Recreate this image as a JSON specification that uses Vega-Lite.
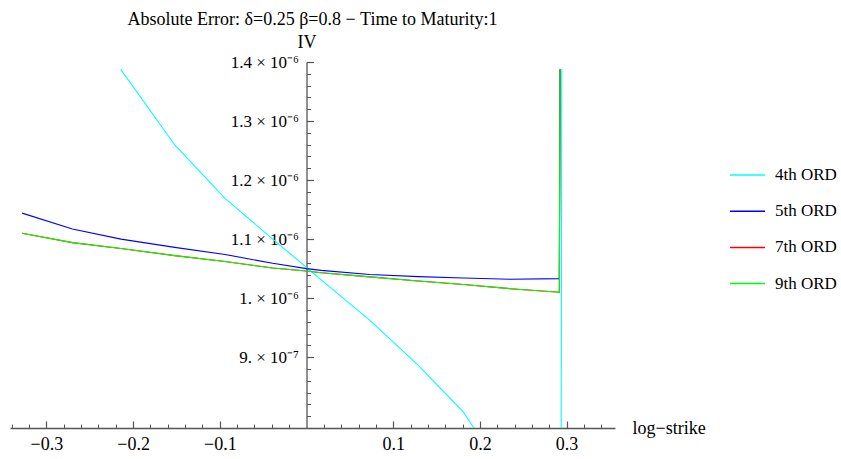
{
  "$schema": "https://vega.github.io/schema/vega-lite/v6.json",
  "autosize": {"type": "none"},
  "width": 605,
  "height": 366,
  "padding": {"left": 10, "top": 62, "right": 226, "bottom": 31},
  "background": "white",
  "config": {
    "font": "Liberation Serif",
    "view": {"stroke": null},
    "axis": {"grid": false}
  },
  "title": {
    "text": "Absolute Error: δ=0.25 β=0.8 − Time to Maturity:1",
    "font": "Liberation Serif",
    "fontSize": 18,
    "fontWeight": "normal",
    "color": "black",
    "anchor": "middle",
    "frame": "group",
    "offset": 4
  },
  "datasets": {
    "err": [
      {"k": -0.2143, "iv": 1.3876e-6, "s": "4th ORD"},
      {"k": -0.1517, "iv": 1.259e-6, "s": "4th ORD"},
      {"k": -0.094, "iv": 1.169e-6, "s": "4th ORD"},
      {"k": -0.039, "iv": 1.100e-6, "s": "4th ORD"},
      {"k": 0.017, "iv": 1.031e-6, "s": "4th ORD"},
      {"k": 0.0734, "iv": 0.962e-6, "s": "4th ORD"},
      {"k": 0.129, "iv": 0.886e-6, "s": "4th ORD"},
      {"k": 0.181, "iv": 0.807e-6, "s": "4th ORD"},
      {"k": 0.235, "iv": 0.685e-6, "s": "4th ORD"},
      {"k": 0.2935, "iv": 0.55e-6, "s": "4th ORD"},
      {"k": 0.2944, "iv": 1.3876e-6, "s": "4th ORD"},

      {"k": -0.328, "iv": 1.144e-6, "s": "5th ORD"},
      {"k": -0.27, "iv": 1.117e-6, "s": "5th ORD"},
      {"k": -0.214, "iv": 1.100e-6, "s": "5th ORD"},
      {"k": -0.152, "iv": 1.086e-6, "s": "5th ORD"},
      {"k": -0.094, "iv": 1.074e-6, "s": "5th ORD"},
      {"k": -0.039, "iv": 1.059e-6, "s": "5th ORD"},
      {"k": 0.0, "iv": 1.050e-6, "s": "5th ORD"},
      {"k": 0.017, "iv": 1.047e-6, "s": "5th ORD"},
      {"k": 0.073, "iv": 1.040e-6, "s": "5th ORD"},
      {"k": 0.129, "iv": 1.0365e-6, "s": "5th ORD"},
      {"k": 0.181, "iv": 1.034e-6, "s": "5th ORD"},
      {"k": 0.235, "iv": 1.032e-6, "s": "5th ORD"},
      {"k": 0.2916, "iv": 1.033e-6, "s": "5th ORD"},
      {"k": 0.2924, "iv": 1.3876e-6, "s": "5th ORD"},

      {"k": -0.328, "iv": 1.110e-6, "s": "7th ORD"},
      {"k": -0.27, "iv": 1.094e-6, "s": "7th ORD"},
      {"k": -0.214, "iv": 1.084e-6, "s": "7th ORD"},
      {"k": -0.152, "iv": 1.072e-6, "s": "7th ORD"},
      {"k": -0.094, "iv": 1.062e-6, "s": "7th ORD"},
      {"k": -0.039, "iv": 1.051e-6, "s": "7th ORD"},
      {"k": 0.0, "iv": 1.046e-6, "s": "7th ORD"},
      {"k": 0.017, "iv": 1.043e-6, "s": "7th ORD"},
      {"k": 0.073, "iv": 1.036e-6, "s": "7th ORD"},
      {"k": 0.129, "iv": 1.029e-6, "s": "7th ORD"},
      {"k": 0.181, "iv": 1.023e-6, "s": "7th ORD"},
      {"k": 0.235, "iv": 1.016e-6, "s": "7th ORD"},
      {"k": 0.2916, "iv": 1.010e-6, "s": "7th ORD"},
      {"k": 0.2924, "iv": 1.3876e-6, "s": "7th ORD"},

      {"k": -0.328, "iv": 1.110e-6, "s": "9th ORD"},
      {"k": -0.27, "iv": 1.094e-6, "s": "9th ORD"},
      {"k": -0.214, "iv": 1.084e-6, "s": "9th ORD"},
      {"k": -0.152, "iv": 1.072e-6, "s": "9th ORD"},
      {"k": -0.094, "iv": 1.062e-6, "s": "9th ORD"},
      {"k": -0.039, "iv": 1.051e-6, "s": "9th ORD"},
      {"k": 0.0, "iv": 1.046e-6, "s": "9th ORD"},
      {"k": 0.017, "iv": 1.043e-6, "s": "9th ORD"},
      {"k": 0.073, "iv": 1.036e-6, "s": "9th ORD"},
      {"k": 0.129, "iv": 1.029e-6, "s": "9th ORD"},
      {"k": 0.181, "iv": 1.023e-6, "s": "9th ORD"},
      {"k": 0.235, "iv": 1.016e-6, "s": "9th ORD"},
      {"k": 0.2916, "iv": 1.010e-6, "s": "9th ORD"},
      {"k": 0.2924, "iv": 1.3876e-6, "s": "9th ORD"}
    ]
  },
  "data": {"name": "err"},
  "resolve": {"axis": {"x": "independent", "y": "independent"}},
  "layer": [
    {
      "mark": {"type": "line", "clip": true, "strokeWidth": 1.1},
      "encoding": {
        "x": {
          "field": "k", "type": "quantitative",
          "scale": {"domain": [-0.342, 0.3558], "nice": false, "zero": false},
          "axis": {
            "orient": "bottom",
            "values": [-0.3, -0.2, -0.1, 0.1, 0.2, 0.3],
            "format": ".1f",
            "tickSize": -7,
            "tickColor": "#555",
            "tickWidth": 1.2,
            "domainColor": "#555",
            "domainWidth": 1.3,
            "labelPadding": 14,
            "labelFontSize": 18,
            "labelColor": "black",
            "labelFlush": false,
            "labelOverlap": false,
            "title": "log−strike",
            "titleFontSize": 18,
            "titleFontWeight": "normal",
            "titleColor": "black",
            "titleAngle": 0,
            "titleAlign": "left",
            "titleBaseline": "middle",
            "titleX": 622,
            "titleY": 0
          }
        },
        "y": {
          "field": "iv", "type": "quantitative",
          "scale": {"domain": [7.8e-7, 1.4e-6], "nice": false, "zero": false},
          "axis": {
            "orient": "left",
            "offset": -296.5,
            "values": [9e-7, 1e-6, 1.1e-6, 1.2e-6, 1.3e-6, 1.4e-6],
            "labelExpr": "round(datum.value*1e7) == 9 ? '9. × 10⁻⁷' : (round(datum.value*1e7) == 10 ? '1. × 10⁻⁶' : format(datum.value*1e6, '.1f') + ' × 10⁻⁶')",
            "tickSize": -7,
            "tickColor": "#555",
            "tickWidth": 1.2,
            "domainColor": "#555",
            "domainWidth": 1.3,
            "labelPadding": 15,
            "labelFontSize": 17,
            "labelColor": "black",
            "labelFlush": false,
            "labelOverlap": false,
            "title": "IV",
            "titleFontSize": 18,
            "titleFontWeight": "normal",
            "titleColor": "black",
            "titleAngle": 0,
            "titleAlign": "center",
            "titleBaseline": "alphabetic",
            "titleX": 0,
            "titleY": -15
          }
        },
        "color": {
          "field": "s", "type": "nominal",
          "scale": {
            "domain": ["4th ORD", "5th ORD", "7th ORD", "9th ORD"],
            "range": ["#00FFFF", "#0000FF", "#FF0000", "#00FF00"]
          },
          "legend": {
            "orient": "none",
            "legendX": 719,
            "legendY": 94.5,
            "title": null,
            "symbolType": "stroke",
            "symbolSize": 1225,
            "symbolStrokeWidth": 1.5,
            "labelFont": "Liberation Serif",
            "labelFontSize": 17,
            "labelColor": "black",
            "labelOffset": 9,
            "rowPadding": 9.2,
            "padding": 0
          }
        }
      }
    },
    {
      "mark": {"type": "line", "opacity": 0},
      "encoding": {
        "x": {
          "field": "k", "type": "quantitative",
          "axis": {
            "orient": "bottom",
            "values": [-0.34, -0.32, -0.28, -0.26, -0.24, -0.22, -0.18, -0.16, -0.14, -0.12, -0.08, -0.06, -0.04, -0.02, 0.02, 0.04, 0.06, 0.08, 0.12, 0.14, 0.16, 0.18, 0.22, 0.24, 0.26, 0.28, 0.32, 0.34],
            "tickSize": -4,
            "tickColor": "#555",
            "tickWidth": 1,
            "domain": false,
            "labels": false,
            "title": null
          }
        },
        "y": {
          "field": "iv", "type": "quantitative",
          "axis": {
            "orient": "left",
            "offset": -296.5,
            "values": [8.0e-7, 8.2e-7, 8.4e-7, 8.6e-7, 8.8e-7, 9.2e-7, 9.4e-7, 9.6e-7, 9.8e-7, 1.02e-6, 1.04e-6, 1.06e-6, 1.08e-6, 1.12e-6, 1.14e-6, 1.16e-6, 1.18e-6, 1.22e-6, 1.24e-6, 1.26e-6, 1.28e-6, 1.32e-6, 1.34e-6, 1.36e-6, 1.38e-6],
            "tickSize": -4,
            "tickColor": "#555",
            "tickWidth": 1,
            "domain": false,
            "labels": false,
            "title": null
          }
        },
        "detail": {"field": "s", "type": "nominal"}
      }
    }
  ]
}
